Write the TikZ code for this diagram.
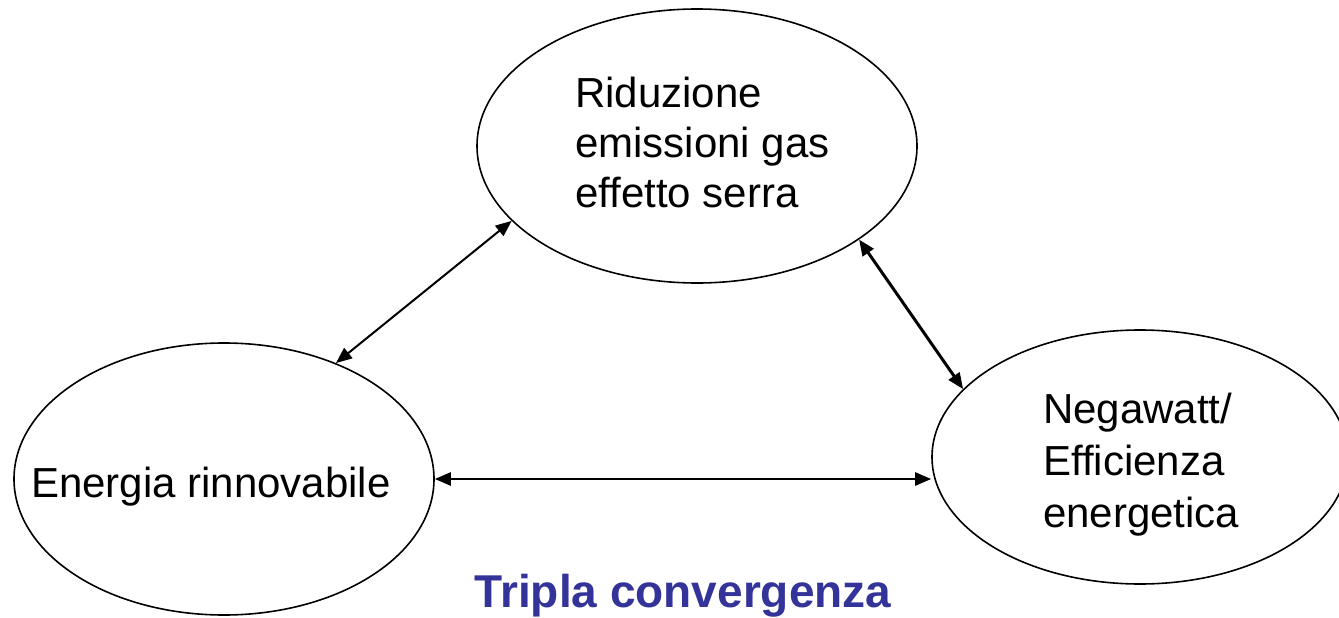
\documentclass[tikz,border=0pt]{standalone}
\usepackage{fontspec}
\setmainfont{Liberation Sans}
\usetikzlibrary{shapes.geometric,arrows.meta}
\definecolor{titleblue}{HTML}{333399}
\begin{document}
\begin{tikzpicture}[x=1pt,y=-1pt,
  bubble/.style={draw=black,line width=1.6pt,ellipse,inner sep=0pt},
  txt/.style={anchor=base west,inner sep=0pt,font=\fontsize{42}{50}\selectfont},
  link/.style={{Triangle[length=16pt,width=13pt]}-{Triangle[length=16pt,width=13pt]},line width=2pt}]
\useasboundingbox (0,0) rectangle (1339,618);
\node[bubble,minimum width=440pt,minimum height=274pt] (top) at (697,146) {};
\node[bubble,minimum width=420pt,minimum height=272pt] (left) at (224,479) {};
\node[bubble,minimum width=416pt,minimum height=254pt] (right) at (1140,457) {};
\node[txt] (t1) at (575,107) {Riduzione};
\node[txt] (t2) at (575,157) {emissioni gas};
\node[txt] (t3) at (575,207) {effetto serra};
\node[txt] (l1) at (31,497) {Energia rinnovabile};
\node[txt] (r1) at (1043,423) {Negawatt/};
\node[txt] (r2) at (1043,475) {Efficienza};
\node[txt] (r3) at (1043,527) {energetica};
\node[anchor=base,inner sep=0pt,text=titleblue,font=\fontsize{46}{56}\selectfont\bfseries] (title) at (683,607) {Tripla convergenza};
\draw[link] (left.46) -- (top.202);
\draw[link,line width=3pt] (top.330) -- (right.159);
\draw[link,line width=2.5pt] (left.east) -- (left.east -| right.west);
\end{tikzpicture}
\end{document}
